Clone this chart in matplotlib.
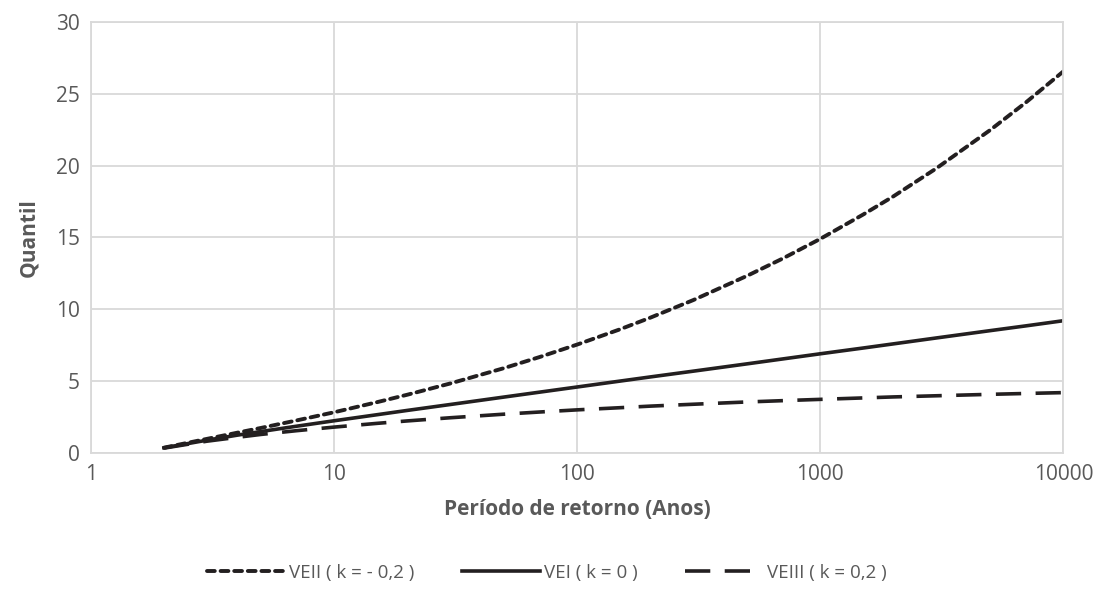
import matplotlib.pyplot as plt

# return periods (years) and quantiles
periodo = [2, 3, 4, 5, 7, 10, 15, 20, 30, 50, 70, 100, 150, 200, 300, 500, 700,
           1000, 1500, 2000, 3000, 5000, 7000, 10000]
veii = [0.38, 0.99, 1.42, 1.75, 2.27, 2.84, 3.54, 4.06, 4.84, 5.91, 6.68, 7.55, 8.61, 9.42,
        10.64, 12.33, 13.53, 14.90, 16.59, 17.86, 19.80, 22.47, 24.38, 26.55]
vei = [0.37, 0.90, 1.25, 1.50, 1.87, 2.25, 2.67, 2.97, 3.38, 3.90, 4.24, 4.60, 5.01, 5.30,
       5.70, 6.21, 6.55, 6.91, 7.31, 7.60, 8.01, 8.52, 8.85, 9.21]
veiii = [0.35, 0.83, 1.10, 1.30, 1.56, 1.81, 2.07, 2.24, 2.46, 2.71, 2.86, 3.01, 3.16, 3.27,
         3.40, 3.56, 3.65, 3.74, 3.84, 3.91, 3.99, 4.09, 4.15, 4.21]

LINE = '#231f20'
GRID = '#d9d9d9'
TXT = '#595959'
FONTSIZE = 15

plt.rcParams['font.family'] = ['Open Sans', 'DejaVu Sans']

fig = plt.figure(figsize=(10.94, 6.05), dpi=100)
ax = fig.add_axes([0.083, 0.251, 0.889, 0.713])

ax.plot(periodo, veii, color=LINE, lw=2.8, dashes=(2.0, 1.5), dash_capstyle='round',
        label='VEII ( k = - 0,2 )')
ax.plot(periodo, vei, color=LINE, lw=2.6, label='VEI ( k = 0 )')
ax.plot(periodo, veiii, color=LINE, lw=2.6, dashes=(7, 4), label='VEIII ( k = 0,2 )')

ax.set_xscale('log')
ax.set_xlim(1, 10000)
ax.set_ylim(0, 30)
ax.set_xticks([1, 10, 100, 1000, 10000])
ax.set_xticklabels(['1', '10', '100', '1000', '10000'])
ax.set_yticks(range(0, 31, 5))
ax.minorticks_off()
ax.grid(True, color=GRID, lw=1.3)
ax.set_axisbelow(True)
for s in ax.spines.values():
    s.set_color(GRID)
    s.set_linewidth(1.3)
ax.tick_params(axis='both', length=0, labelsize=FONTSIZE, labelcolor=TXT, pad=8)

ax.set_xlabel('Período de retorno (Anos)', fontsize=FONTSIZE, fontweight='bold', color=TXT, labelpad=10)
ax.set_ylabel('Quantil', fontsize=FONTSIZE, fontweight='bold', color=TXT, labelpad=12)

fig.legend(loc='center', bbox_to_anchor=(0.5, 0.053), ncol=3, frameon=False,
           fontsize=13.5, labelcolor=TXT, handlelength=4.2, handletextpad=0.2, columnspacing=2.5)

fig.savefig('out.png', dpi=100)
